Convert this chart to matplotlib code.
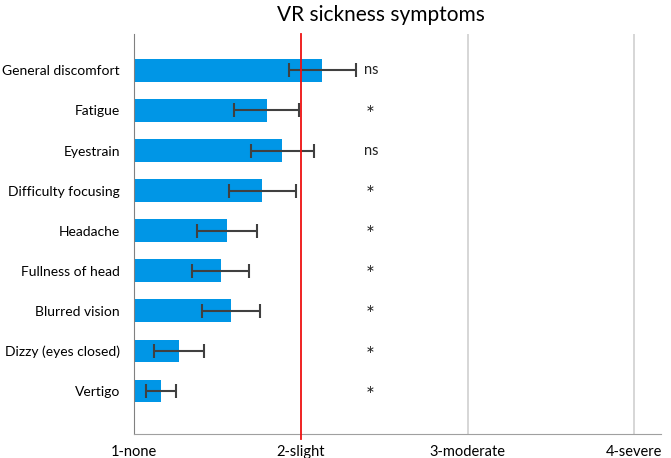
import matplotlib
matplotlib.use("Agg")
import matplotlib.pyplot as plt
import numpy as np

plt.rcParams['font.family'] = ['Lato', 'DejaVu Sans']

# Data (mean score and error bar half-width)
symptoms = ["General discomfort", "Fatigue", "Eyestrain", "Difficulty focusing",
            "Headache", "Fullness of head", "Blurred vision",
            "Dizzy (eyes closed)", "Vertigo"]
means = [2.13, 1.795, 1.89, 1.77, 1.555, 1.52, 1.58, 1.27, 1.16]
errors = [0.20, 0.195, 0.19, 0.20, 0.18, 0.17, 0.175, 0.15, 0.09]
signif = ["ns", "*", "ns", "*", "*", "*", "*", "*", "*"]
scale_ticks = [1, 2, 3, 4]
scale_labels = ["1-none", "2-slight", "3-moderate", "4-severe"]

fig = plt.figure(figsize=(6.71, 4.58), dpi=100)
ax = fig.add_axes([134 / 671, 24 / 458, 527 / 671, 400 / 458])

y = np.arange(len(symptoms))
base = 1.0
ax.barh(y, np.array(means) - base, left=base, height=0.56, color='#0096E6', zorder=2)
ax.errorbar(means, y, xerr=errors, fmt='none', ecolor='#404040', elinewidth=1.5,
            capsize=5, capthick=1.5, zorder=3)

# grid lines and reference line
for gx in scale_ticks[2:]:
    ax.axvline(gx, color='#d0d0d0', lw=1.2, zorder=1)
ax.axvline(2, color='#ee1111', lw=1.3, ymin=-0.012, ymax=1, clip_on=False, zorder=4)

for yi, s in zip(y, signif):
    if s == "*":
        ax.text(2.415, yi + 0.12, s, ha='center', va='center', fontsize=15, color='#222222')
    else:
        ax.text(2.42, yi, s, ha='center', va='center', fontsize=10.5, color='#222222')

ax.set_xlim(1, 4.16)
ax.set_ylim(len(symptoms) - 1 + 1.08, -0.91)
ax.set_yticks(y)
ax.set_yticklabels(symptoms, fontsize=10)
ax.set_xticks(scale_ticks)
ax.set_xticklabels(scale_labels, fontsize=10.5)
ax.tick_params(length=0, pad=8)
ax.tick_params(axis='y', pad=10)

for side in ['top', 'right']:
    ax.spines[side].set_visible(False)
ax.spines['left'].set_color('#808080')
ax.spines['bottom'].set_color('#a0a0a0')

fig.text(381 / 671, 1 - 15 / 458, "VR sickness symptoms", ha='center', va='center', fontsize=15)

fig.savefig("out.png", dpi=100)
